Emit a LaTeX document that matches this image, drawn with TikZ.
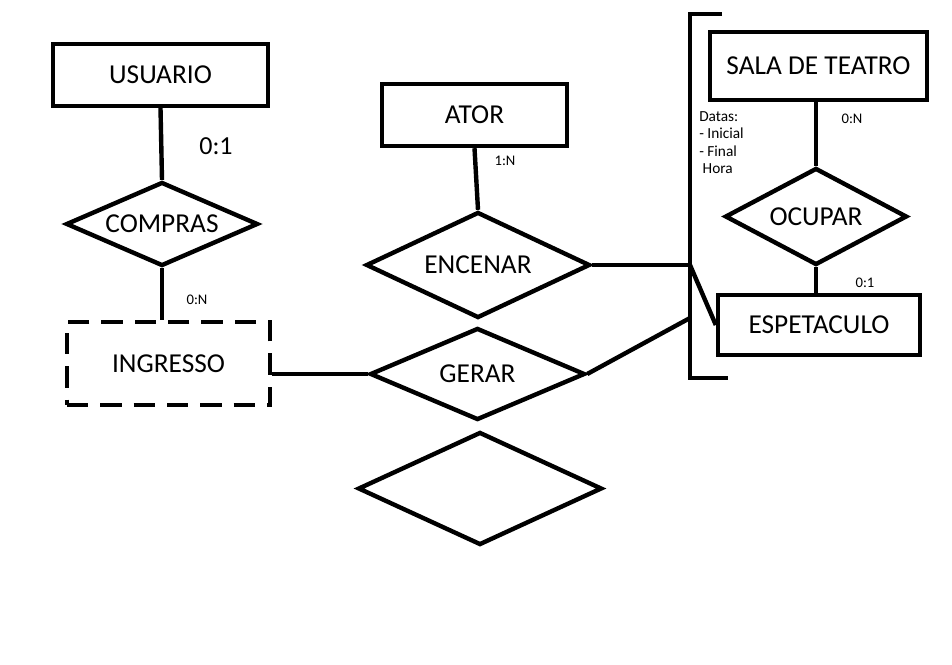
\documentclass[tikz,border=0pt]{standalone}
\usepackage{fontspec}
\setmainfont{Carlito}
\usetikzlibrary{shapes.geometric}
\tikzset{
  ln/.style={line width=3.3pt},
  big/.style={font=\fontsize{20.5}{24}\selectfont},
  ent/.style={draw, ln, rectangle, inner sep=0pt, big},
  rel/.style={draw, ln, diamond, inner sep=0pt},
  rlab/.style={label={[big, inner sep=0pt]center:#1}},
  card/.style={inner sep=0pt, font=\fontsize{11}{13}\selectfont},
  note/.style={inner sep=0pt, font=\fontsize{11.5}{13.2}\selectfont, align=left, anchor=north west}
}
\begin{document}
\begin{tikzpicture}[x=0.75pt,y=-0.75pt]
\useasboundingbox (0,0) rectangle (952,664);
% entities
\node[ent, minimum width=161.25pt, minimum height=46.5pt] (usuario) at (160.5,75) {USUARIO};
\node[ent, minimum width=138.75pt, minimum height=46.5pt] (ator) at (474.5,115) {ATOR};
\node[ent, minimum width=162.75pt, minimum height=51pt] (sala) at (818.5,66) {SALA DE TEATRO};
\node[ent, minimum width=151.5pt, minimum height=45pt] (espet) at (819,325) {ESPETACULO};
\node[ent, dashed, dash pattern=on 16pt off 9pt, minimum width=152.25pt, minimum height=62.25pt] (ingresso) at (168.5,363.5) {INGRESSO};
% relationships
\node[rel, rlab=COMPRAS, minimum width=144pt, minimum height=63pt] (compras) at (162,224) {};
\node[rel, rlab=ENCENAR, minimum width=168pt, minimum height=79.5pt] (encenar) at (478,265) {};
\node[rel, rlab=GERAR, minimum width=161.25pt, minimum height=69pt] (gerar) at (477.5,374) {};
\node[rel, rlab=OCUPAR, minimum width=136.5pt, minimum height=72.75pt] (ocupar) at (816,216.5) {};
\node[rel, minimum width=183pt, minimum height=84.75pt] (vazio) at (480,488.5) {};
% bracket
\coordinate (bt) at (722,14);
\coordinate (btl) at (690,14);
\coordinate (bbl) at (690,378);
\coordinate (bb) at (728,378);
\coordinate (j1) at (690,265);
\coordinate (j2) at (690,318);
\draw[ln] (bt) -- (btl) -- (bbl) -- (bb);
% connectors
\draw[ln] (usuario.south) -- (compras.north);
\draw[ln] (compras.south) -- (compras.south |- ingresso.north);
\draw[ln] (ingresso.east |- gerar.west) -- (gerar.west);
\draw[ln] (ator.south) -- (encenar.north);
\draw[ln] (encenar.east) -- (j1);
\draw[ln] (j1) -- (espet.west);
\draw[ln] (gerar.east) -- (j2);
\draw[ln] (ocupar.north |- sala.south) -- (ocupar.north);
\draw[ln] (ocupar.south) -- (ocupar.south |- espet.north);
% labels
\node[inner sep=0pt, font=\fontsize{19.5}{23}\selectfont] (c01) at (216,146) {0:1};
\node[card] (c0n) at (197,300) {0:N};
\node[card] (c1n) at (505,161) {1:N};
\node[card] (c0n2) at (852,119) {0:N};
\node[card] (c012) at (865,283) {0:1};
\node[note] (datas) at (699,111) {Datas:\\ - Inicial\\ - Final\\ \ Hora};
\end{tikzpicture}
\end{document}
